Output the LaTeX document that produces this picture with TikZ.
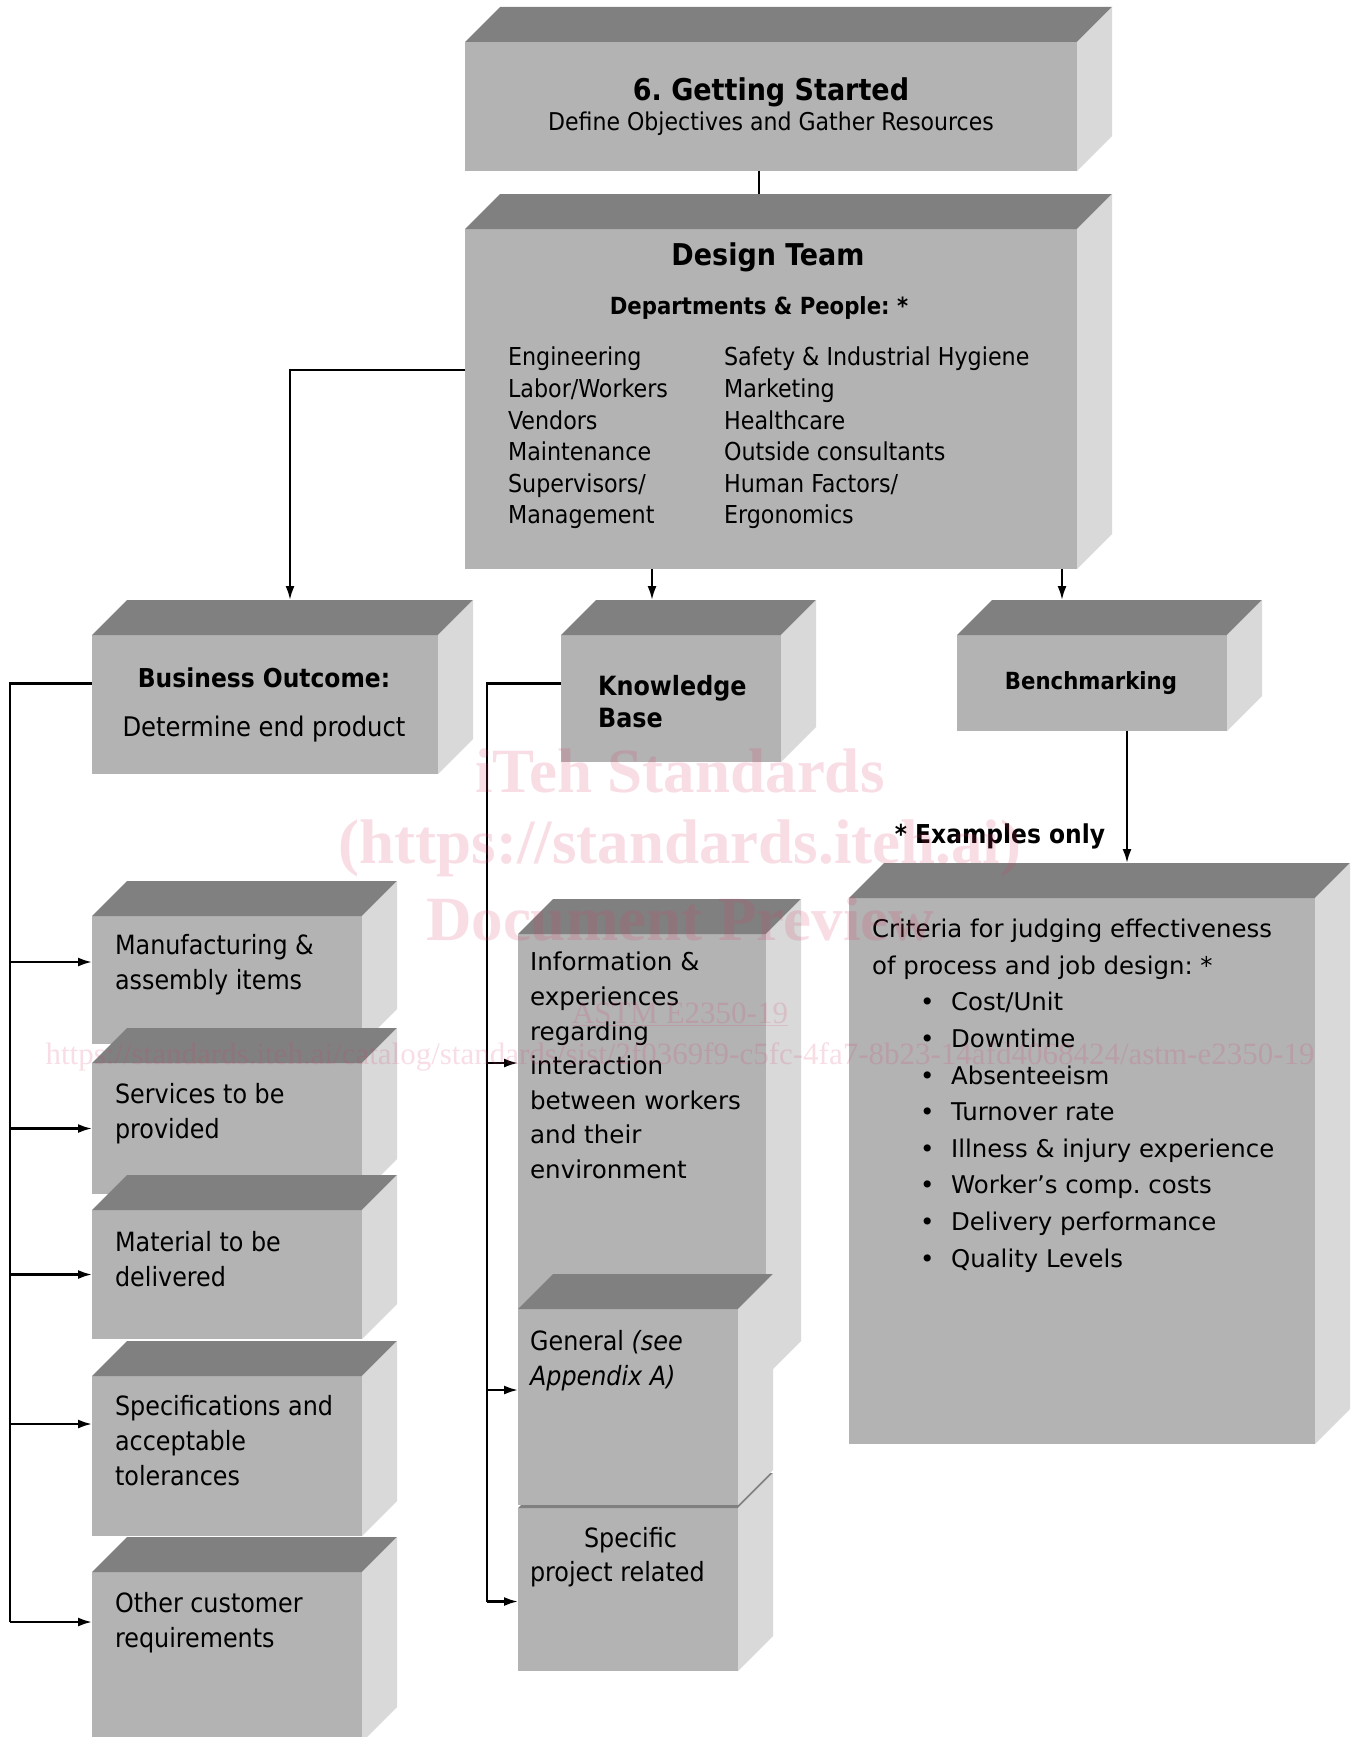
\documentclass[tikz,border=0pt]{standalone}
\usepackage{fontspec}
\setmainfont{DejaVu Sans Condensed}
\newfontfamily\verdanafont{DejaVu Sans}
\newfontfamily\wmfont{Liberation Serif}
\usepackage{xcolor}
\usetikzlibrary{calc,arrows.meta}
\frenchspacing

\definecolor{facegray}{RGB}{179,179,179}
\definecolor{topgray}{RGB}{128,128,128}
\definecolor{sidegray}{RGB}{217,217,217}
\definecolor{wmpink}{RGB}{215,60,100}

\newcommand{\setfs}[2]{\fontsize{#1}{#2}\selectfont}
\newcommand{\critem}[1]{\hspace*{48pt}\makebox[31pt][l]{\textbullet}#1}
% top and right faces of a block
\newcommand{\cubefaces}[1]{%
  \fill[topgray] (#1.north west) -- ++(35pt,35pt) -- ([shift={(35pt,35pt)}]#1.north east) -- (#1.north east) -- cycle;
  \fill[sidegray] (#1.north east) -- ++(35pt,35pt) -- ([shift={(35pt,35pt)}]#1.south east) -- (#1.south east) -- cycle;}

\tikzset{
  face/.style={fill=facegray, inner sep=0pt, outer sep=0pt},
  txt/.style={inner sep=0pt, align=left, anchor=north west},
  arr/.style={-{Latex[length=14pt,width=9pt]}},
  wm/.style={text=wmpink, text opacity=0.17, inner sep=0pt}
}

\begin{document}
\begin{tikzpicture}[x=1pt, y=-1pt, line width=2.2pt]
  \fill[white] (0,0) rectangle (1356,1737);
  \useasboundingbox (0,0) rectangle (1356,1737);

  % blocks
  \node[face, minimum width=612pt, minimum height=129pt] (start) at (771,106.5) {};
  \cubefaces{start}
  \node[face, minimum width=612pt, minimum height=340pt] (team) at (771,399) {};
  \cubefaces{team}
  \node[face, minimum width=346pt, minimum height=139pt] (bus) at (265,704.5) {};
  \cubefaces{bus}
  \node[face, minimum width=220pt, minimum height=127pt] (kb) at (671,698.5) {};
  \cubefaces{kb}
  \node[face, minimum width=270pt, minimum height=96pt] (bench) at (1092,683) {};
  \cubefaces{bench}
  \node[face, minimum width=466pt, minimum height=546pt] (crit) at (1082,1171) {};
  \cubefaces{crit}

  \node[face, minimum width=270pt, minimum height=128pt] (manuf) at (227,980) {};
  \cubefaces{manuf}
  \node[face, minimum width=270pt, minimum height=131pt] (serv) at (227,1128.5) {};
  \cubefaces{serv}
  \node[face, minimum width=270pt, minimum height=129pt] (mat) at (227,1274.5) {};
  \cubefaces{mat}
  \node[face, minimum width=270pt, minimum height=160pt] (tol) at (227,1456) {};
  \cubefaces{tol}
  \node[face, minimum width=270pt, minimum height=170pt] (cust) at (227,1657) {};
  \cubefaces{cust}

  \node[face, minimum width=248pt, minimum height=442pt] (info) at (642,1155) {};
  \cubefaces{info}
  \node[face, minimum width=220pt, minimum height=163pt] (proj) at (628,1589.5) {};
  \cubefaces{proj}
  \node[face, minimum width=220pt, minimum height=196pt] (gen) at (628,1407) {};
  \cubefaces{gen}

  % connectors
  \draw ([xshift=-12pt]start.south) -- ([xshift=-12pt,yshift=35pt]team.north);
  \draw[arr] ([yshift=29pt]team.west) -| ([xshift=25pt,yshift=35pt]bus.north);
  \coordinate (kbtop) at ([xshift=-19pt,yshift=35pt]kb.north);
  \draw[arr] (kbtop |- team.south) -- (kbtop);
  \coordinate (benchtop) at ([xshift=-30pt,yshift=35pt]bench.north);
  \draw[arr] (benchtop |- team.south) -- (benchtop);
  \coordinate (crittop) at ([xshift=45pt,yshift=35pt]crit.north);
  \draw[arr] (crittop |- bench.south) -- (crittop);

  \draw ([yshift=21pt]bus.west) -| ($(cust.west)+(-82pt,35pt)$);
  \foreach \blk/\dy in {manuf/18,serv/0,mat/0,tol/32,cust/35}
    \draw[arr] ($(\blk.west)+(-82pt,\dy pt)$) -- ([yshift=\dy pt]\blk.west);
  \draw ([yshift=15pt]kb.west) -| ($(proj.west)+(-31pt,-12pt)$);
  \foreach \blk/\dy in {info/92,gen/17,proj/-12}
    \draw[arr] ($(\blk.west)+(-31pt,\dy pt)$) -- ([yshift=\dy pt]\blk.west);

  % texts
  \node[font=\bfseries\setfs{30}{36}] (starttitle) at (771,92) {6. Getting Started};
  \node[font=\setfs{24.5}{30}] (startsub) at (771,124) {Define Objectives and Gather Resources};
  \node[font=\bfseries\setfs{30}{36}] (teamtitle) at (768,257) {Design Team};
  \node[font=\bfseries\setfs{23.6}{30}] (teamdept) at (759,308) {Departments \& People: *};
  \node[txt, font=\setfs{24.7}{31.6}] (teamleft) at (507,346)
    {Engineering\\Labor/Workers\\Vendors\\Maintenance\\Supervisors/\\Management};
  \node[txt, font=\setfs{24.7}{31.6}] (teamright) at (723,346)
    {Safety \& Industrial Hygiene\\Marketing\\Healthcare\\Outside consultants\\Human Factors/\\Ergonomics};
  \node[font=\bfseries\setfs{26}{32}] (bustitle) at (264,678) {Business Outcome:};
  \node[font=\setfs{27}{32}] (bustext) at (264,729) {Determine end product};
  \node[txt, font=\bfseries\setfs{26.5}{32}] (kbtext) at (597,674) {Knowledge\\Base};
  \node[font=\bfseries\setfs{23.6}{30}] (benchtext) at (1091,683) {Benchmarking};
  \node[font=\bfseries\setfs{26}{32}] (examples) at (1000,836) {* Examples only};
  \node[txt, font=\verdanafont\setfs{24.4}{36.6}] (crittext) at (871,918)
    {Criteria for judging effectiveness\\of process and job design: *\\
     \critem{Cost/Unit}\\\critem{Downtime}\\\critem{Absenteeism}\\\critem{Turnover rate}\\
     \critem{Illness \& injury experience}\\\critem{Worker’s comp. costs}\\
     \critem{Delivery performance}\\\critem{Quality Levels}};

  \node[txt, font=\setfs{26.5}{35}] (manuftext) at (114,933) {Manufacturing \&\\assembly items};
  \node[txt, font=\setfs{26.5}{35}] (servtext) at (114,1082) {Services to be\\provided};
  \node[txt, font=\setfs{26.5}{35}] (mattext) at (114,1230) {Material to be\\delivered};
  \node[txt, font=\setfs{26.5}{35}] (toltext) at (114,1394) {Specifications and\\acceptable\\tolerances};
  \node[txt, font=\setfs{26.5}{35}] (custtext) at (114,1591) {Other customer\\requirements};

  \node[txt, font=\verdanafont\setfs{24.6}{34.6}] (infotext) at (529,951)
    {Information \&\\experiences\\regarding\\interaction\\between workers\\and their\\environment};
  \node[txt, font=\setfs{26.5}{35}] (gentext) at (529,1329) {General \textit{(see}\\\textit{Appendix A)}};
  \node[txt, font=\setfs{26.5}{34}] (projtext) at (529,1526) {\hspace*{54pt}Specific\\project related};

  % watermark
  \node[wm, font=\wmfont\bfseries\setfs{63}{63}] (wmone) at (680,771) {iTeh Standards};
  \node[wm, font=\wmfont\bfseries\setfs{63}{63}] (wmtwo) at (680,848) {(https://standards.iteh.ai)};
  \node[wm, font=\wmfont\bfseries\setfs{63}{63}] (wmthree) at (680,919) {Document Preview};
  \node[wm, font=\wmfont\setfs{31}{31}] (wmfour) at (680,1014) {\underline{ASTM E2350-19}};
  \node[wm, font=\wmfont\setfs{31}{31}] (wmfive) at (680,1057)
    {https://standards.iteh.ai/catalog/standards/sist/2f0369f9-c5fc-4fa7-8b23-14afd4068424/astm-e2350-19};
\end{tikzpicture}
\end{document}
